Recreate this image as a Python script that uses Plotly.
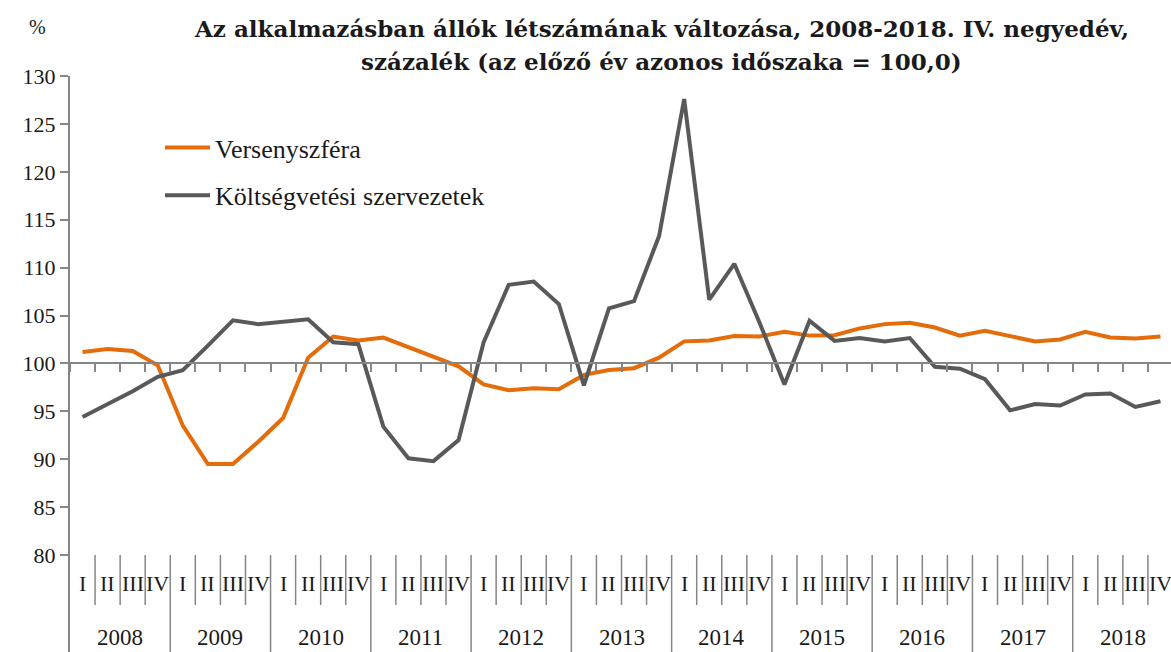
import plotly.graph_objects as go

# ---------------- data ----------------
years = [str(y) for y in range(2008, 2019)]
quarters = ["I", "II", "III", "IV"]
categories = [f"{y} {q}" for y in years for q in quarters]

versenyszfera = [
    101.2, 101.5, 101.3, 99.8,
    93.5, 89.5, 89.5, 91.8,
    94.3, 100.6, 102.8, 102.4,
    102.7, 101.7, 100.6, 99.7,
    97.8, 97.2, 97.4, 97.3,
    98.8, 99.3, 99.5, 100.6,
    102.3, 102.4, 102.85, 102.8,
    103.3, 102.9, 102.95, 103.65,
    104.1, 104.25, 103.75, 102.9,
    103.4, 102.9, 102.3, 102.5,
    103.3, 102.7, 102.6, 102.8,
]
koltsegvetesi = [
    94.4, 95.7, 97.1, 98.6,
    99.3, 101.85, 104.5, 104.1,
    104.4, 104.6, 102.2, 102.0,
    93.4, 90.1, 89.8, 92.0,
    102.2, 108.2, 108.55, 106.2,
    97.7, 105.75, 106.5, 113.3,
    127.6, 106.65, 110.4, 104.3,
    97.8, 104.45, 102.35, 102.65,
    102.3, 102.65, 99.65, 99.45,
    98.35, 95.1, 95.75, 95.6,
    96.75, 96.85, 95.45, 96.05,
]
series_names = ["Versenyszféra", "Költségvetési szervezetek"]
series_colors = ["#E46C0A", "#595959"]
y_ticks = [80, 85, 90, 95, 100, 105, 110, 115, 120, 125, 130]

title_lines = ["Az alkalmazásban állók létszámának változása, 2008-2018. IV. negyedév,",
               "százalék (az előző év azonos időszaka = 100,0)"]

# ---------------- layout geometry ----------------
W, H = 1171, 652
M_L, M_T = 70, 76
PLOT_H = H - M_T
Y_TOP = 130
PX_PER_UNIT = 9.58
Y_BOTTOM = Y_TOP - PLOT_H / PX_PER_UNIT
BASE = 100
AXIS_COLOR = "#868686"
FONT = "Liberation Serif"
TITLE_FONT = "DejaVu Serif"
TXT = "#1a1a1a"

n = len(categories)
x_right = -0.5 + n * (W - M_L) / 1103.0


def px_x(p):
    return (p - M_L) / (W - M_L)


def px_y(p):
    return (H - p) / PLOT_H


fig = go.Figure()
for name, vals, col in zip(series_names, [versenyszfera, koltsegvetesi], series_colors):
    fig.add_trace(go.Scatter(
        x=categories, y=vals, name=name, mode="lines",
        line=dict(color=col, width=4), legendgroup=name,
    ))

# bottom category labels & separators
quarter_label_y = Y_TOP - (583 - M_T) / PX_PER_UNIT
year_label_y = Y_TOP - (637 - M_T) / PX_PER_UNIT
quarter_sep_end = Y_TOP - (605 - M_T) / PX_PER_UNIT

shapes = []
annotations = []
for i, cat in enumerate(categories):
    q = cat.split(" ")[1]
    annotations.append(dict(x=i, y=quarter_label_y, xref="x", yref="y", text=q,
                            showarrow=False, font=dict(family=FONT, size=22, color=TXT),
                            xanchor="center", yanchor="middle"))
    k = i + 1
    end = Y_BOTTOM if k % 4 == 0 else quarter_sep_end
    shapes.append(dict(type="line", xref="x", yref="y", x0=k - 0.5, x1=k - 0.5,
                       y0=80, y1=end, line=dict(color=AXIS_COLOR, width=1.5)))
for j, yr in enumerate(years):
    annotations.append(dict(x=4 * j + 1.5, y=year_label_y, xref="x", yref="y", text=yr,
                            showarrow=False, font=dict(family=FONT, size=23, color=TXT),
                            xanchor="center", yanchor="middle"))

annotations.append(dict(x=px_x(37), y=px_y(27), xref="paper", yref="paper", text="%",
                        showarrow=False, font=dict(family=FONT, size=20, color=TXT),
                        xanchor="center", yanchor="middle"))
for line_text, cy in zip(title_lines, [28, 62]):
    annotations.append(dict(x=px_x(661), y=px_y(cy), xref="paper", yref="paper",
                            text=f"<b>{line_text}</b>", showarrow=False,
                            font=dict(family=TITLE_FONT, size=23, color=TXT),
                            xanchor="center", yanchor="middle"))

fig.update_layout(
    width=W, height=H,
    margin=dict(l=M_L, r=0, t=M_T, b=0, pad=0),
    paper_bgcolor="white", plot_bgcolor="white",
    font=dict(family=FONT, size=22, color=TXT),
    showlegend=True,
    legend=dict(x=px_x(160), y=px_y(124),
                xanchor="left", yanchor="top", bgcolor="rgba(0,0,0,0)",
                font=dict(family=FONT, size=26, color=TXT),
                traceorder="grouped", tracegroupgap=11, itemwidth=45),
    xaxis=dict(type="category", categoryorder="array", categoryarray=categories,
               range=[-0.5, x_right], anchor="free",
               position=(BASE - Y_BOTTOM) / (Y_TOP - Y_BOTTOM),
               showline=True, linecolor=AXIS_COLOR, linewidth=2,
               ticks="outside", tickson="boundaries", ticklen=8, tickwidth=1.5,
               tickcolor=AXIS_COLOR, showticklabels=False, showgrid=False, zeroline=False),
    yaxis=dict(range=[Y_BOTTOM, Y_TOP], tickvals=y_ticks, ticks="outside", ticklen=8,
               tickwidth=1.5, tickcolor=AXIS_COLOR, showline=True, linecolor=AXIS_COLOR,
               linewidth=2, showgrid=False, zeroline=False,
               tickfont=dict(family=FONT, size=22, color=TXT)),
    shapes=shapes, annotations=annotations,
)

fig.write_html("out.html", config={"displayModeBar": False},
               post_script="document.body.style.margin='0';document.body.style.overflow='hidden';")
